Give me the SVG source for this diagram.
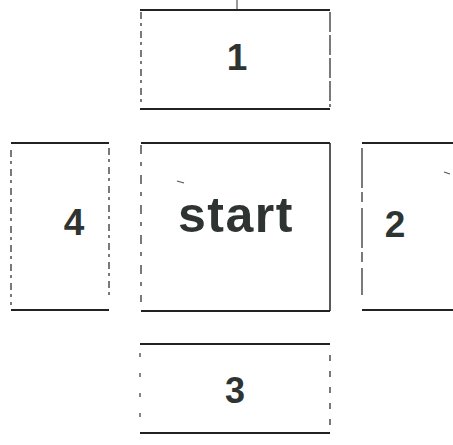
<svg xmlns="http://www.w3.org/2000/svg" width="453" height="445" viewBox="0 0 453 445">
<style>
.solid{stroke:#222;stroke-width:2;fill:none}
.dash{stroke:#333;stroke-width:1.3;fill:none;stroke-dasharray:7 4 3 5}
.sparse{stroke:#444;stroke-width:1.3;fill:none;stroke-dasharray:4 16}
.lbl{font-family:"Liberation Sans",Arial,sans-serif;font-weight:bold;fill:#2e3432;text-anchor:middle}
.mark{stroke:#555;stroke-width:1.2;fill:none}
</style>
<rect width="453" height="445" fill="#fff"/>
<g id="connectors">
<line class="mark" x1="237" y1="0" x2="237" y2="9"/>
</g>
<g id="node-1">
<line class="solid" x1="140" y1="10" x2="330" y2="10"/>
<line class="solid" x1="140" y1="109" x2="330" y2="109"/>
<line class="dash" x1="141" y1="12" x2="141" y2="107"/>
<line class="dash" x1="330" y1="12" x2="330" y2="107" style="stroke-dasharray:20 3"/>
<text class="lbl" x="237" y="70" font-size="37">1</text>
</g>
<g id="node-4">
<line class="solid" x1="11" y1="143" x2="109" y2="143"/>
<line class="solid" x1="11" y1="310" x2="109" y2="310"/>
<line class="dash" x1="11" y1="150" x2="11" y2="305"/>
<line class="dash" x1="109" y1="148" x2="109" y2="295"/>
<text class="lbl" x="74" y="235" font-size="37">4</text>
</g>
<g id="node-start">
<line class="solid" x1="141" y1="143" x2="330" y2="143"/>
<line class="solid" x1="141" y1="311" x2="330" y2="311"/>
<line class="dash" x1="141" y1="145" x2="141" y2="302" style="stroke-dasharray:9 8 4 9"/>
<line class="solid" x1="330" y1="143" x2="330" y2="311" style="stroke-width:1.5"/>
<line class="mark" x1="177" y1="181" x2="184" y2="183"/>
<text class="lbl" x="236" y="232" font-size="50" letter-spacing="1.5">start</text>
</g>
<g id="node-2">
<line class="solid" x1="362" y1="143" x2="453" y2="143"/>
<line class="solid" x1="362" y1="310" x2="453" y2="310"/>
<line class="dash" x1="362" y1="148" x2="362" y2="295" style="stroke-dasharray:40 4 10 6"/>
<line class="mark" x1="444" y1="172" x2="450" y2="174"/>
<text class="lbl" x="395" y="237" font-size="37">2</text>
</g>
<g id="node-3">
<line class="solid" x1="140" y1="344" x2="330" y2="344"/>
<line class="solid" x1="140" y1="433" x2="330" y2="433"/>
<line class="sparse" x1="140" y1="353" x2="140" y2="425"/>
<line class="dash" x1="330" y1="355" x2="330" y2="430" style="stroke-dasharray:6 10"/>
<text class="lbl" x="235" y="403" font-size="36">3</text>
</g>
</svg>
